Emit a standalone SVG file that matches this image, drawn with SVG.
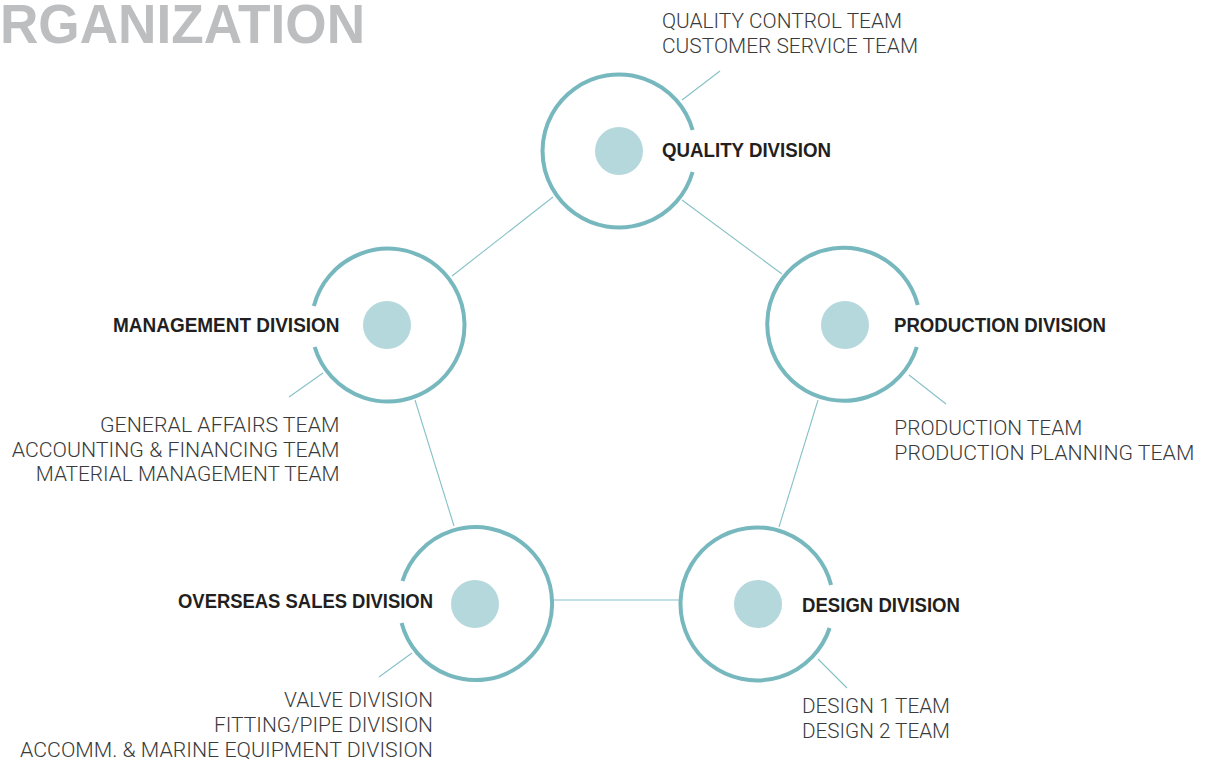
<svg xmlns="http://www.w3.org/2000/svg" width="1208" height="762" viewBox="0 0 1208 762">
<style>
.ring{fill:none;stroke:#77b8bf;stroke-width:4}
.dot{fill:#b4d8dc}
.conn line{stroke:#86c1c7;stroke-width:1.1}
.lbl{font-family:"Liberation Sans",Arial,sans-serif;font-weight:700;font-size:21px;fill:#231f20}
.team{font-family:Roboto,"Liberation Sans",Arial,sans-serif;font-weight:300;font-size:19.5px;fill:#3a3a3a}
.title{font-family:"Liberation Sans",Arial,sans-serif;font-weight:700;font-size:56px;fill:#bcbec0}
</style>
<rect width="1208" height="762" fill="#ffffff"/>
<text class="title" x="0" y="43" textLength="365" lengthAdjust="spacingAndGlyphs">RGANIZATION</text>
<g id="connectors" class="conn">
<line x1="553" y1="197" x2="452" y2="276"/>
<line x1="682" y1="200" x2="782" y2="274"/>
<line x1="415" y1="400" x2="454" y2="526"/>
<line x1="818" y1="400" x2="779" y2="527"/>
<line x1="553" y1="600" x2="680" y2="600"/>
<line x1="682" y1="100" x2="720" y2="71"/>
<line x1="323" y1="373" x2="289" y2="397"/>
<line x1="909" y1="375" x2="946" y2="404"/>
<line x1="412" y1="653" x2="379" y2="677"/>
<line x1="818" y1="659" x2="847" y2="688"/>
</g>
<g id="quality">
<path class="ring" d="M692.6 172 A76.5 76.5 0 1 1 692.6 130"/>
<circle class="dot" cx="619" cy="151" r="24"/>
<text class="lbl" x="662" y="157" textLength="169" lengthAdjust="spacingAndGlyphs">QUALITY DIVISION</text>
<text class="team" x="662" y="27.5" textLength="240" lengthAdjust="spacingAndGlyphs">QUALITY CONTROL TEAM</text>
<text class="team" x="662" y="53" textLength="256" lengthAdjust="spacingAndGlyphs">CUSTOMER SERVICE TEAM</text>
</g>
<g id="management">
<path class="ring" d="M313.9 306 A76.5 76.5 0 1 1 314.7 347"/>
<circle class="dot" cx="387" cy="325" r="24"/>
<text class="lbl" x="113" y="332" textLength="226.5" lengthAdjust="spacingAndGlyphs">MANAGEMENT DIVISION</text>
<text class="team" x="100" y="432" textLength="239.5" lengthAdjust="spacingAndGlyphs">GENERAL AFFAIRS TEAM</text>
<text class="team" x="11.7" y="456.5" textLength="327.8" lengthAdjust="spacingAndGlyphs">ACCOUNTING &amp; FINANCING TEAM</text>
<text class="team" x="35.7" y="481" textLength="303.8" lengthAdjust="spacingAndGlyphs">MATERIAL MANAGEMENT TEAM</text>
</g>
<g id="production">
<path class="ring" d="M916.8 347 A76.5 76.5 0 1 1 917.8 305"/>
<circle class="dot" cx="845" cy="325" r="24"/>
<text class="lbl" x="894" y="332" textLength="212" lengthAdjust="spacingAndGlyphs">PRODUCTION DIVISION</text>
<text class="team" x="894.3" y="435" textLength="188" lengthAdjust="spacingAndGlyphs">PRODUCTION TEAM</text>
<text class="team" x="894.3" y="460" textLength="300" lengthAdjust="spacingAndGlyphs">PRODUCTION PLANNING TEAM</text>
</g>
<g id="overseas">
<path class="ring" d="M402.5 581 A76.5 76.5 0 1 1 401.6 623"/>
<circle class="dot" cx="475" cy="604" r="24"/>
<text class="lbl" x="178" y="608" textLength="255" lengthAdjust="spacingAndGlyphs">OVERSEAS SALES DIVISION</text>
<text class="team" x="284" y="707" textLength="149" lengthAdjust="spacingAndGlyphs">VALVE DIVISION</text>
<text class="team" x="214" y="732" textLength="219" lengthAdjust="spacingAndGlyphs">FITTING/PIPE DIVISION</text>
<text class="team" x="20" y="757" textLength="413" lengthAdjust="spacingAndGlyphs">ACCOMM. &amp; MARINE EQUIPMENT DIVISION</text>
</g>
<g id="design">
<path class="ring" d="M829.6 628 A76.5 76.5 0 1 1 831.1 585"/>
<circle class="dot" cx="758" cy="604" r="24"/>
<text class="lbl" x="802" y="612" textLength="158" lengthAdjust="spacingAndGlyphs">DESIGN DIVISION</text>
<text class="team" x="802" y="713" textLength="148" lengthAdjust="spacingAndGlyphs">DESIGN 1 TEAM</text>
<text class="team" x="802" y="738" textLength="148" lengthAdjust="spacingAndGlyphs">DESIGN 2 TEAM</text>
</g>
</svg>
